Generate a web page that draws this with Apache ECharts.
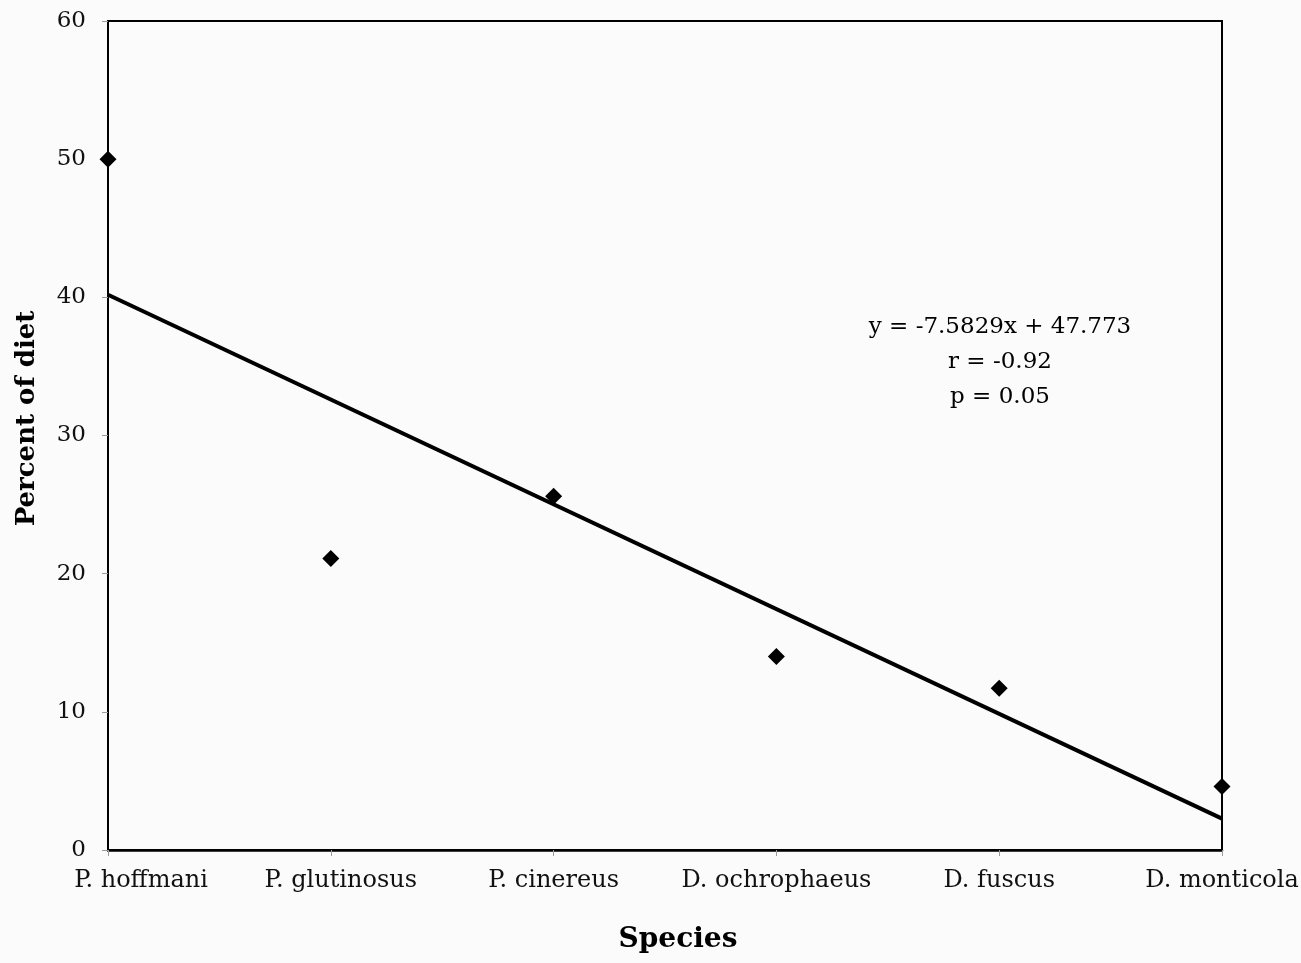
<!DOCTYPE html>
<html>
<head>
<meta charset="utf-8">
<script src="https://cdn.jsdelivr.net/npm/echarts@6/dist/echarts.min.js"></script>
<style>
html,body{margin:0;padding:0;background:#fbfbfb;}
#chart{width:1301px;height:963px;}
</style>
</head>
<body>
<div id="chart"></div>
<script>
const species = ['P. hoffmani', 'P. glutinosus', 'P. cinereus', 'D. ochrophaeus', 'D. fuscus', 'D. monticola'];
const percentDiet = [50, 21.1, 25.6, 14.0, 11.7, 4.6];
const trendValues = [40.19, null, null, null, null, 2.27];
const yTicks = [0, 10, 20, 30, 40, 50, 60];
const annotationLines = ['y = -7.5829x + 47.773', 'r = -0.92', 'p = 0.05'];

const chart = echarts.init(document.getElementById('chart'));
const serif = '"DejaVu Serif", "Liberation Serif", serif';
const categoryItems = species.map((s, i) => i === 0
  ? {value: s, textStyle: {padding: [0, 0, 0, 66]}}
  : (i === 1 ? {value: s, textStyle: {padding: [0, 0, 0, 20]}} : s));
chart.setOption({
  backgroundColor: '#fbfbfb',
  animation: false,
  grid: {left: 108, right: 79, top: 21, bottom: 113, show: true, borderColor: '#000', borderWidth: 2,
         backgroundColor: 'transparent', containLabel: false, outerBoundsMode: 'none'},
  xAxis: {
    type: 'category', data: categoryItems, boundaryGap: false,
    name: 'Species', nameLocation: 'middle', nameGap: 76,
    nameTextStyle: {fontFamily: serif, fontWeight: 'bold', fontSize: 28, color: '#000', padding: [0, 0, 0, 26]},
    axisLine: {lineStyle: {color: '#000', width: 2.5}},
    axisTick: {show: true, length: 6, lineStyle: {color: '#999', width: 1}},
    axisLabel: {fontFamily: serif, fontSize: 24, color: '#111', margin: 19, interval: 0},
    splitLine: {show: false}
  },
  yAxis: {
    type: 'value', min: yTicks[0], max: yTicks[yTicks.length - 1], interval: 10,
    name: 'Percent of diet', nameLocation: 'middle', nameGap: 68,
    nameTextStyle: {fontFamily: serif, fontWeight: 'bold', fontSize: 26, color: '#000', padding: [0, 0, 0, 34]},
    axisLine: {show: true, lineStyle: {color: '#000', width: 2}},
    axisTick: {show: true, length: 6, lineStyle: {color: '#999', width: 1}},
    axisLabel: {fontFamily: serif, fontSize: 23, color: '#111', margin: 22},
    splitLine: {show: false}
  },
  graphic: annotationLines.map((t, i) => ({
    type: 'text', x: 1000, y: 316 + i * 35,
    style: {text: t, fontFamily: serif, fontSize: 23, fill: '#000', textAlign: 'center'}
  })),
  series: [
    {type: 'line', data: trendValues, connectNulls: true, symbol: 'none',
     lineStyle: {color: '#000', width: 4}, z: 2},
    {type: 'scatter', data: percentDiet, symbol: 'diamond', symbolSize: 17,
     itemStyle: {color: '#000', opacity: 1}, z: 3}
  ]
});
</script>
</body>
</html>
